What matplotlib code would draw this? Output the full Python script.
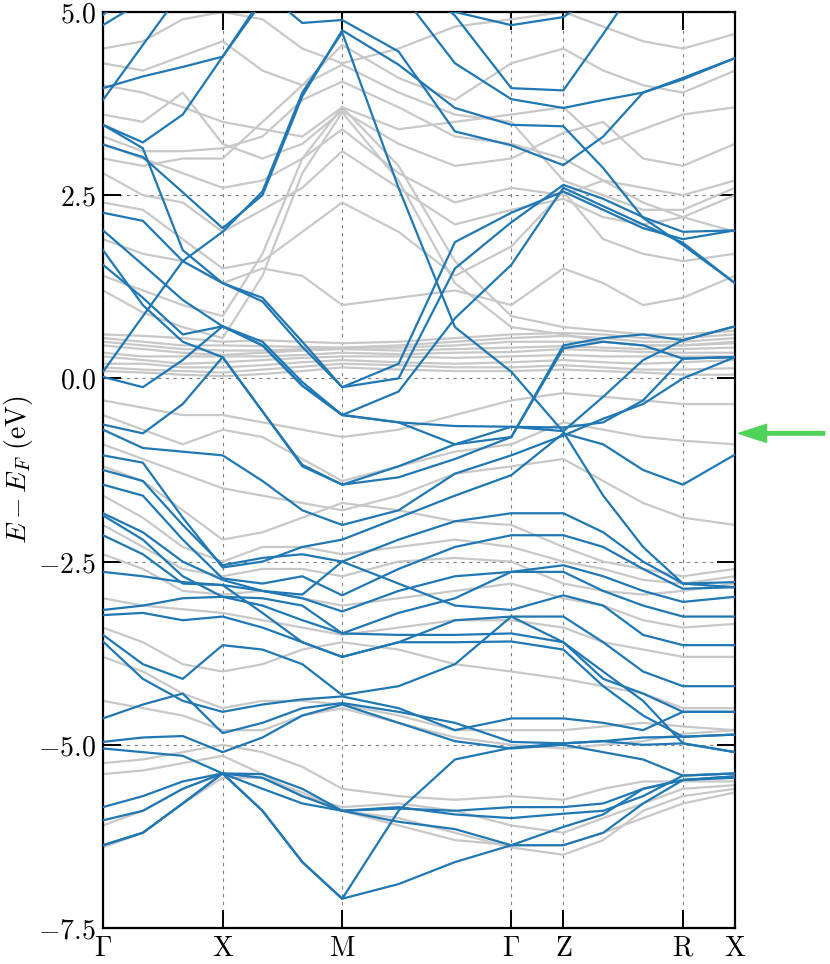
import numpy as np
import matplotlib
matplotlib.use("Agg")
import matplotlib.pyplot as plt
from matplotlib.ticker import FuncFormatter

plt.rcParams['mathtext.fontset'] = 'cm'
plt.rcParams['font.family'] = ['DejaVu Serif']

# high-symmetry path: labels and segment lengths (in units of 2pi/a)
kpath_labels = ['$\\Gamma$', '$\\mathrm{X}$', '$\\mathrm{M}$', '$\\Gamma$', '$\\mathrm{Z}$', '$\\mathrm{R}$', '$\\mathrm{X}$']
segment_len = [1.0, 1.0, 1.414, 0.435, 1.0, 0.435]
segment_steps = [3, 3, 3, 1, 3, 1]

# energies (eV) read at the sampled k-points along the path
# order: G, ., ., X, ., ., M, ., ., G, Z, ., ., R, X
blue_bands = [
    [4.96, 5.4, 5.6, 5.7, 5.6, 5.3, 5.1, 5.2, 5.0, 4.82, 4.93, 5.3, 5.6, 5.6, 5.6],
    [4.82, 5.15, 5.5, 5.6, 5.3, 4.85, 4.89, 4.46, 3.37, 3.18, 2.91, 3.3, 3.9, 4.1, 4.37],
    [3.96, 4.12, 4.25, 4.39, 5.2, 5.6, 5.8, 5.6, 4.95, 3.96, 3.93, 4.7, 5.5, 5.6, 5.6],
    [3.80, 4.55, 5.3, 5.6, 5.7, 5.6, 5.5, 5.3, 4.3, 3.81, 3.69, 3.8, 3.9, 4.08, 4.37],
    [3.46, 3.22, 3.6, 4.39, 5.15, 5.5, 5.6, 5.5, 5.3, 5.2, 5.3, 5.5, 5.6, 5.6, 5.6],
    [3.46, 3.14, 1.75, 1.3, 1.05, 0.43, -0.12, 0.2, 1.86, 2.26, 2.55, 2.3, 2.05, 1.9, 2.02],
    [3.19, 3.02, 2.54, 2.05, 2.5, 3.85, 4.75, 4.28, 3.69, 3.46, 3.44, 2.87, 2.19, 1.82, 1.3],
    [2.26, 2.15, 1.6, 1.3, 1.1, 0.5, -0.12, 0.0, 1.5, 2.13, 2.64, 2.45, 2.2, 2.0, 2.02],
    [2.02, 1.55, 1.07, 0.71, 0.45, -0.1, -0.5, -0.18, 0.82, 1.55, 2.6, 2.35, 2.1, 1.85, 1.3],
    [1.75, 1.0, 0.5, 0.29, -0.45, -1.18, -1.45, -1.2, -0.9, -0.66, -0.67, -0.6, -0.3, 0.27, 0.29],
    [1.55, 1.1, 0.6, 0.71, 0.5, -0.05, -0.5, -0.6, -0.65, -0.66, -0.72, -0.25, 0.25, 0.52, 0.71],
    [0.09, 0.85, 1.6, 2.0, 2.55, 3.9, 4.72, 2.6, 0.7, 0.09, -0.73, -1.6, -2.3, -2.8, -2.85],
    [0.02, -0.12, 0.25, 0.71, 0.45, -0.1, -0.5, -0.6, -0.9, -0.8, 0.45, 0.55, 0.6, 0.52, 0.71],
    [-0.63, -0.75, -0.35, 0.29, -0.45, -1.2, -1.45, -1.35, -1.1, -0.8, 0.41, 0.5, 0.45, 0.27, 0.29],
    [-0.70, -0.95, -1.0, -1.05, -1.4, -1.8, -2.0, -1.8, -1.3, -1.05, -0.78, -0.55, -0.35, 0.0, 0.29],
    [-1.05, -1.15, -1.9, -2.58, -2.5, -2.3, -2.2, -1.9, -1.6, -1.32, -0.75, -0.9, -1.25, -1.45, -1.04],
    [-1.25, -1.4, -2.0, -2.55, -2.45, -2.4, -2.5, -2.2, -1.95, -1.84, -1.84, -2.1, -2.5, -2.8, -2.78],
    [-1.45, -1.6, -2.2, -2.73, -2.8, -2.7, -2.96, -2.6, -2.3, -2.14, -2.14, -2.3, -2.6, -2.87, -2.85],
    [-1.84, -2.1, -2.5, -2.75, -2.9, -3.0, -3.18, -2.9, -2.7, -2.64, -2.55, -2.7, -2.9, -3.05, -2.98],
    [-1.87, -2.2, -2.7, -2.98, -3.0, -3.1, -3.48, -3.2, -3.0, -2.64, -2.64, -2.9, -3.1, -3.25, -3.25],
    [-2.14, -2.4, -2.8, -2.82, -2.9, -2.95, -2.5, -2.8, -3.1, -3.16, -2.96, -3.1, -3.5, -3.64, -3.64],
    [-2.64, -2.7, -2.78, -2.82, -3.2, -3.6, -3.8, -3.6, -3.3, -3.25, -3.25, -3.6, -4.0, -4.2, -4.2],
    [-3.16, -3.1, -3.0, -2.98, -3.1, -3.3, -3.48, -3.5, -3.5, -3.48, -3.6, -4.1, -4.3, -4.55, -4.55],
    [-3.23, -3.2, -3.3, -3.25, -3.4, -3.6, -3.8, -3.6, -3.6, -3.59, -3.7, -4.2, -4.6, -4.89, -4.86],
    [-3.5, -3.9, -4.1, -3.64, -3.7, -3.9, -4.32, -4.2, -3.9, -3.25, -3.6, -4.0, -4.4, -4.98, -5.1],
    [-3.59, -4.1, -4.4, -4.55, -4.45, -4.38, -4.34, -4.5, -4.8, -4.64, -4.64, -4.7, -4.8, -4.55, -4.55],
    [-4.64, -4.45, -4.3, -4.84, -4.7, -4.5, -4.43, -4.55, -4.7, -4.96, -4.98, -4.95, -4.9, -4.89, -4.86],
    [-4.96, -4.9, -4.88, -5.1, -4.9, -4.6, -4.45, -4.7, -4.95, -5.05, -5.0, -5.1, -5.2, -5.42, -5.39],
    [-5.05, -5.1, -5.15, -5.39, -5.6, -5.8, -5.9, -5.87, -5.9, -5.85, -5.85, -5.8, -5.6, -5.48, -5.43],
    [-5.85, -5.7, -5.5, -5.39, -5.9, -6.6, -7.1, -5.9, -5.2, -5.04, -4.98, -4.95, -5.0, -4.98, -5.1],
    [-6.03, -5.9, -5.6, -5.39, -5.9, -6.6, -7.1, -6.9, -6.6, -6.37, -6.37, -6.2, -5.8, -5.48, -5.45],
    [-6.37, -6.2, -5.8, -5.39, -5.4, -5.6, -5.9, -5.85, -5.95, -6.0, -5.94, -5.9, -5.7, -5.42, -5.39],
    [-6.37, -6.2, -5.8, -5.39, -5.45, -5.7, -5.9, -6.05, -6.15, -6.37, -6.12, -5.95, -5.6, -5.48, -5.43],
]

grey_bands = [
    [4.5, 4.6, 4.9, 5.0, 4.9, 4.5, 4.3, 4.5, 4.8, 4.9, 5.0, 4.8, 4.6, 4.5, 4.7],
    [4.3, 4.2, 4.4, 4.6, 4.2, 4.0, 4.55, 4.1, 3.8, 4.3, 4.5, 4.2, 4.0, 3.9, 4.2],
    [4.0, 3.9, 3.7, 3.5, 3.4, 3.3, 3.7, 3.4, 3.5, 3.6, 3.7, 3.2, 3.4, 3.6, 3.7],
    [3.6, 3.5, 3.9, 3.2, 3.0, 3.2, 3.65, 3.2, 2.9, 3.0, 3.35, 3.5, 3.0, 2.9, 3.2],
    [3.2, 3.0, 2.8, 2.6, 2.7, 3.0, 3.4, 2.8, 2.4, 2.6, 2.5, 2.7, 2.6, 2.5, 2.7],
    [2.8, 2.5, 2.4, 2.0, 2.3, 2.6, 3.1, 2.6, 2.1, 2.3, 2.45, 2.2, 2.1, 2.2, 2.5],
    [2.4, 2.3, 1.9, 1.5, 1.6, 2.0, 2.4, 2.0, 1.4, 1.8, 2.55, 1.9, 1.7, 1.6, 1.7],
    [1.9, 1.7, 1.6, 1.3, 1.5, 1.4, 1.0, 1.1, 1.2, 1.0, 1.5, 1.3, 1.0, 1.1, 1.4],
    [0.6, 0.58, 0.55, 0.5, 0.52, 0.5, 0.48, 0.5, 0.55, 0.6, 0.62, 0.6, 0.55, 0.55, 0.6],
    [0.55, 0.5, 0.45, 0.45, 0.44, 0.43, 0.42, 0.45, 0.5, 0.55, 0.58, 0.55, 0.5, 0.5, 0.55],
    [0.5, 0.45, 0.4, 0.38, 0.38, 0.4, 0.42, 0.42, 0.45, 0.5, 0.5, 0.5, 0.45, 0.45, 0.48],
    [0.45, 0.4, 0.35, 0.32, 0.35, 0.38, 0.4, 0.38, 0.4, 0.42, 0.44, 0.42, 0.4, 0.4, 0.42],
    [0.35, 0.3, 0.3, 0.3, 0.3, 0.32, 0.35, 0.33, 0.35, 0.36, 0.4, 0.38, 0.36, 0.35, 0.35],
    [0.3, 0.25, 0.2, 0.22, 0.25, 0.28, 0.3, 0.3, 0.28, 0.3, 0.32, 0.3, 0.3, 0.3, 0.3],
    [0.2, 0.2, 0.15, 0.15, 0.18, 0.22, 0.25, 0.22, 0.2, 0.22, 0.25, 0.22, 0.2, 0.22, 0.25],
    [0.15, 0.12, 0.1, 0.08, 0.12, 0.16, 0.2, 0.18, 0.15, 0.15, 0.18, 0.15, 0.12, 0.12, 0.14],
    [0.1, 0.08, 0.05, 0.03, 0.06, 0.1, 0.15, 0.12, 0.1, 0.1, 0.12, 0.1, 0.08, 0.05, 0.05],
    [1.2, 0.9, 0.7, 0.55, 1.4, 2.8, 3.63, 2.7, 1.3, 0.7, 0.6, 0.5, 0.45, 0.45, 0.5],
    [1.4, 1.2, 1.0, 0.85, 1.7, 3.0, 3.7, 2.9, 1.6, 0.85, 0.7, 0.65, 0.6, 0.6, 0.65],
    [3.3, 3.1, 3.1, 3.14, 3.3, 3.8, 4.05, 3.7, 3.3, 3.2, 3.0, 2.7, 2.4, 2.2, 2.0],
    [3.0, 2.9, 3.0, 3.0, 3.5, 4.0, 4.28, 3.9, 3.6, 3.5, 2.7, 2.5, 2.3, 2.3, 2.6],
    [-0.3, -0.4, -0.5, -0.5, -0.6, -0.7, -0.8, -0.7, -0.5, -0.3, -0.2, -0.25, -0.3, -0.35, -0.35],
    [-0.5, -0.7, -0.9, -0.7, -0.8, -1.1, -1.4, -1.2, -1.0, -0.9, -0.6, -0.7, -0.8, -0.85, -0.9],
    [-0.9, -1.1, -1.3, -1.5, -1.6, -1.7, -1.8, -1.6, -1.3, -1.2, -1.1, -1.4, -1.7, -1.9, -2.0],
    [-1.2, -1.4, -1.8, -2.2, -2.1, -1.9, -1.7, -1.8, -1.95, -2.0, -2.3, -2.5, -2.6, -2.7, -2.6],
    [-1.6, -1.9, -2.3, -2.5, -2.3, -2.3, -2.4, -2.3, -2.2, -2.3, -2.5, -2.6, -2.75, -2.8, -2.7],
    [-2.0, -2.3, -2.6, -2.7, -2.6, -2.6, -2.7, -2.5, -2.45, -2.5, -2.8, -2.9, -2.95, -2.9, -2.8],
    [-2.4, -2.6, -2.9, -2.95, -2.9, -3.0, -3.1, -3.0, -2.9, -2.8, -3.0, -3.1, -3.3, -3.4, -3.35],
    [-3.0, -3.1, -3.15, -3.2, -3.3, -3.4, -3.5, -3.4, -3.3, -3.3, -3.4, -3.6, -3.7, -3.8, -3.8],
    [-3.4, -3.6, -3.9, -4.0, -3.9, -3.7, -3.6, -3.7, -3.9, -4.0, -4.1, -4.2, -4.3, -4.5, -4.5],
    [-3.8, -4.0, -4.3, -4.5, -4.4, -4.4, -4.45, -4.6, -4.8, -4.8, -4.8, -4.75, -4.7, -4.75, -4.8],
    [-4.4, -4.5, -4.6, -4.8, -4.8, -4.6, -4.5, -4.7, -4.9, -5.0, -5.05, -5.0, -4.95, -4.85, -4.8],
    [-5.25, -5.2, -5.1, -5.0, -5.1, -5.3, -5.6, -5.7, -5.75, -5.7, -5.75, -5.6, -5.5, -5.5, -5.5],
    [-5.4, -5.35, -5.25, -5.15, -5.4, -5.7, -5.85, -5.8, -5.9, -6.1, -6.2, -6.0, -5.8, -5.6, -5.55],
    [-6.1, -5.9, -5.6, -5.4, -5.45, -5.7, -5.9, -6.0, -6.2, -6.4, -6.5, -6.3, -5.9, -5.7, -5.6],
    [-6.4, -6.2, -5.8, -5.45, -5.45, -5.65, -5.9, -6.1, -6.3, -6.37, -6.37, -6.2, -6.0, -5.8, -5.65],
]

marker_energy = -0.75   # green arrow on the right

# k coordinate of every sampled point
ticks_k = np.concatenate([[0.0], np.cumsum(segment_len)])
k = [0.0]
for a, L, n in zip(ticks_k[:-1], segment_len, segment_steps):
    k += list(a + L * np.arange(1, n + 1) / n)
k = np.array(k)

fig = plt.figure(figsize=(8.3, 9.64), dpi=100)
ax = fig.add_axes([0.1241, 0.0373, 0.7614, 0.9503])

for e in grey_bands:
    ax.plot(k, e, color='#c8c8c8', lw=1.6, zorder=2)
for e in blue_bands:
    ax.plot(k, e, color='#1f77b4', lw=1.6, zorder=3)

ax.set_xlim(ticks_k[0], ticks_k[-1])
ax.set_ylim(-7.5, 5.0)
ax.set_xticks(ticks_k)
ax.set_xticklabels(kpath_labels)
ax.set_yticks([-7.5, -5.0, -2.5, 0.0, 2.5, 5.0])
ax.yaxis.set_major_formatter(FuncFormatter(lambda v, p: '$%.1f$' % v))
ax.set_ylabel('$E - E_F\\ \\mathrm{(eV)}$', fontsize=20, labelpad=2)

ax.grid(True, color='#808080', ls=(0, (3, 4)), lw=0.8, zorder=1)
ax.tick_params(direction='in', length=13, width=1.4, top=True, right=True,
               labelsize=20, pad=5)
for s in ax.spines.values():
    s.set_linewidth(1.6)

ax.annotate('', xy=(1.006, marker_energy), xytext=(1.142, marker_energy),
            xycoords=('axes fraction', 'data'), textcoords=('axes fraction', 'data'),
            arrowprops=dict(color='#50d25a', width=2.5, headwidth=13, headlength=20),
            annotation_clip=False)

fig.savefig('out.png', dpi=100)
